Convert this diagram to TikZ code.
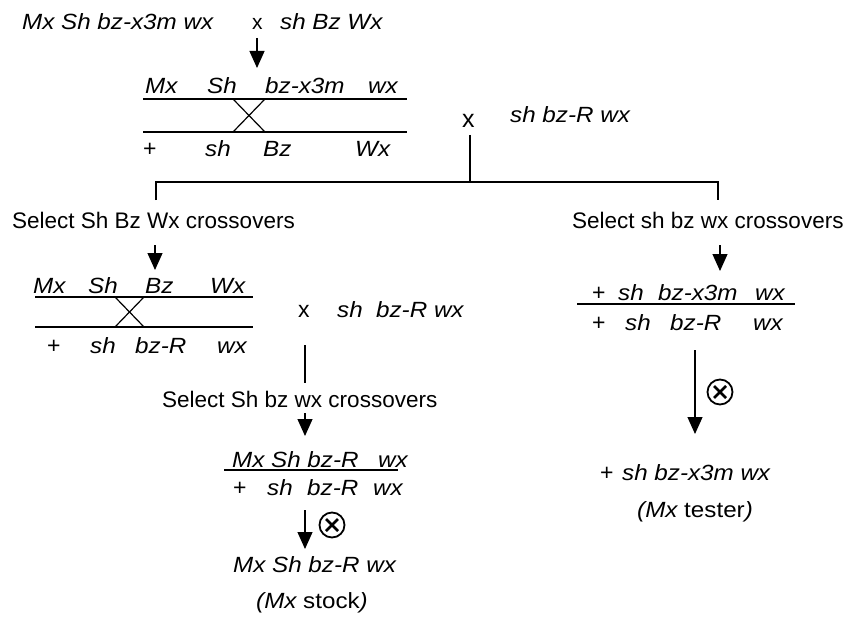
\documentclass[tikz,border=0pt]{standalone}
\usepackage{fontspec}
\setmainfont{Liberation Sans}
\newfontfamily\gtfont[FakeStretch=1.1]{Liberation Sans}
\usetikzlibrary{arrows.meta}
\begin{document}
\begin{tikzpicture}[x=1pt,y=-1pt,
  gt/.style={anchor=base west,inner sep=0pt,font=\fontsize{22}{26}\gtfont\itshape},
  gtu/.style={anchor=base west,inner sep=0pt,font=\fontsize{22}{26}\gtfont},
  up/.style={anchor=base west,inner sep=0pt,font=\fontsize{23}{27}\selectfont},
  sel/.style={anchor=base west,inner sep=0pt,font=\fontsize{22.5}{27}\selectfont},
  chrom/.style={line width=1.4pt},
  conn/.style={line width=1.2pt},
  arr/.style={line width=1.2pt,-{Triangle[width=15pt,length=17pt]}},
  selfx/.style={circle,draw,line width=1.8pt,minimum size=25pt,inner sep=0pt,
    path picture={\draw[line width=2.6pt] (path picture bounding box.south west)++(6.5,-6.5) -- ++(12,-12);
                  \draw[line width=2.6pt] (path picture bounding box.north west)++(6.5,6.5) -- ++(12,12);}}
]
\useasboundingbox (0,0) rectangle (846,623);

% header cross
\node[gt] (p1) at (22,30) {Mx Sh bz-x3m wx};
\node[up,font=\fontsize{21}{25}\selectfont] (x1) at (252,30) {x};
\node[gt] (p2) at (280,30) {sh Bz Wx};
\coordinate (a1s) at (257,38);
\coordinate (a1e) at (257,68);
\draw[arr] (a1s) -- (a1e);

% chromosome pair 1
\coordinate (c1tl) at (143,99); \coordinate (c1tr) at (407,99);
\coordinate (c1bl) at (143,132); \coordinate (c1br) at (407,132);
\draw[chrom] (c1tl) -- (c1tr);
\draw[chrom] (c1bl) -- (c1br);
\coordinate (k1a) at (233,99); \coordinate (k1b) at (265,132);
\coordinate (k1c) at (265,99); \coordinate (k1d) at (233,132);
\draw[conn] (k1a) -- (k1b);
\draw[conn] (k1c) -- (k1d);
\node[gt] (l1a) at (145,94) {Mx};
\node[gt] (l1b) at (207,94) {Sh};
\node[gt] (l1c) at (265,94) {bz-x3m};
\node[gt] (l1d) at (368,94) {wx};
\node[up] (l1e) at (143,157) {+};
\node[gt] (l1f) at (205,157) {sh};
\node[gt] (l1g) at (263,157) {Bz};
\node[gt] (l1h) at (355,157) {Wx};

\node[up,font=\fontsize{25}{30}\selectfont] (x2) at (462,128) {x};
\node[gt] (p3) at (510,123) {sh bz-R wx};

% bracket
\coordinate (b0) at (470,135);
\coordinate (b1) at (470,182);
\coordinate (bl) at (156,182);
\coordinate (br) at (718,182);
\coordinate (bld) at (156,200);
\coordinate (brd) at (718,200);
\draw[conn] (b0) -- (b1);
\draw[conn] (bld) -- (bl) -- (br) -- (brd);

\node[sel] (s1) at (12,228) {Select Sh Bz Wx crossovers};
\node[sel] (s2) at (572,228) {Select sh bz wx crossovers};

% left branch
\coordinate (a2s) at (155,245);
\coordinate (a2e) at (155,270);
\draw[arr] (a2s) -- (a2e);
\coordinate (c2tl) at (35,297); \coordinate (c2tr) at (253,297);
\coordinate (c2bl) at (35,327); \coordinate (c2br) at (253,327);
\draw[chrom] (c2tl) -- (c2tr);
\draw[chrom] (c2bl) -- (c2br);
\coordinate (k2a) at (115,297); \coordinate (k2b) at (144,327);
\coordinate (k2c) at (144,297); \coordinate (k2d) at (115,327);
\draw[conn] (k2a) -- (k2b);
\draw[conn] (k2c) -- (k2d);
\node[gt] (l2a) at (33,293) {Mx};
\node[gt] (l2b) at (88,293) {Sh};
\node[gt] (l2c) at (145,293) {Bz};
\node[gt] (l2d) at (210,293) {Wx};
\node[up] (l2e) at (47,353) {+};
\node[gt] (l2f) at (90,353) {sh};
\node[gt] (l2g) at (135,353) {bz-R};
\node[gt] (l2h) at (217,353) {wx};

\node[up] (x3) at (298,317) {x};
\node[gt] (p4) at (337,317) {sh\ \ bz-R wx};

\coordinate (v1s) at (305,345);
\coordinate (v1e) at (305,383);
\draw[conn] (v1s) -- (v1e);
\node[sel] (s3) at (162,407) {Select Sh bz wx crossovers};
\coordinate (a3s) at (305,413);
\coordinate (a3e) at (305,436);
\draw[arr] (a3s) -- (a3e);

\node[gt] (l3a) at (232,467) {Mx Sh bz-R};
\node[gt] (l3b) at (378,467) {wx};
\coordinate (u3l) at (224,470); \coordinate (u3r) at (398,470);
\draw[chrom] (u3l) -- (u3r);
\node[up] (l3c) at (233,495) {+};
\node[gt] (l3d) at (267,495) {sh};
\node[gt] (l3e) at (307,495) {bz-R};
\node[gt] (l3f) at (373,495) {wx};

\coordinate (a4s) at (305,510);
\coordinate (a4e) at (305,549);
\draw[arr] (a4s) -- (a4e);
\node[selfx] (o1) at (332,525) {};

\node[gt] (r1) at (233,572) {Mx Sh bz-R wx};
\node[gtu] (r2) at (256,608) {\itshape(Mx\upshape{} stock\itshape)};

% right branch
\coordinate (a5s) at (720,245);
\coordinate (a5e) at (720,271);
\draw[arr] (a5s) -- (a5e);
\node[up] (l4a) at (592,300) {+};
\node[gt] (l4b) at (618,300) {sh};
\node[gt] (l4c) at (658,300) {bz-x3m};
\node[gt] (l4d) at (755,300) {wx};
\coordinate (u4l) at (577,304); \coordinate (u4r) at (795,304);
\draw[chrom] (u4l) -- (u4r);
\node[up] (l4e) at (592,330) {+};
\node[gt] (l4f) at (625,330) {sh};
\node[gt] (l4g) at (670,330) {bz-R};
\node[gt] (l4h) at (753,330) {wx};

\coordinate (a6s) at (695,350);
\coordinate (a6e) at (695,434);
\draw[arr] (a6s) -- (a6e);
\node[selfx] (o2) at (720,392) {};

\node[up] (r3a) at (600,480) {+};
\node[gt] (r3b) at (622,480) {sh bz-x3m wx};
\node[gtu] (r4) at (637,517) {\itshape(Mx\upshape{} tester\itshape)};
\end{tikzpicture}
\end{document}
